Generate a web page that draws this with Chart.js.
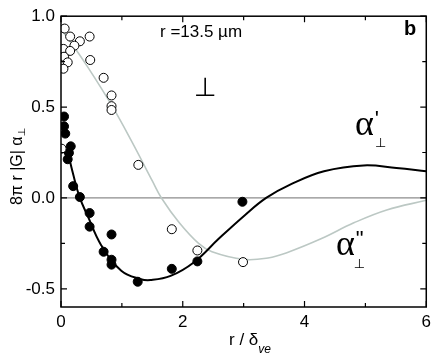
<!DOCTYPE html>
<html>
<head>
<meta charset="utf-8">
<script src="https://cdn.jsdelivr.net/npm/chart.js@4/dist/chart.umd.min.js"></script>
<style>
  html, body { margin: 0; padding: 0; background: #fff; }
  canvas { display: block; }
</style>
</head>
<body>
<canvas id="chart" width="436" height="356"></canvas>
<script>
// measured points (open = alpha'', filled = alpha')
const openX = [0.06, 0.15, 0.47, 0.31, 0.22, 0.04, 0.15, 0.48, 0.05, 0.11, 0.04, 0.70, 0.83, 0.83, 0.83, 1.27, 0.01, 1.82, 2.24, 2.99];
const openY = [0.932, 0.888, 0.888, 0.862, 0.838, 0.82, 0.809, 0.759, 0.777, 0.746, 0.711, 0.661, 0.564, 0.505, 0.484, 0.182, 0.271, -0.172, -0.289, -0.353];
const filledX = [0.05, 0.05, 0.07, 0.16, 0.13, 0.11, 0.20, 0.31, 0.47, 0.47, 0.83, 0.70, 0.83, 0.83, 1.26, 1.82, 2.24, 2.98];
const filledY = [0.448, 0.394, 0.354, 0.284, 0.248, 0.213, 0.065, 0.005, -0.083, -0.158, -0.201, -0.296, -0.340, -0.367, -0.461, -0.390, -0.349, -0.021];

// model curves
const fitRealX = [0.1, 0.2, 0.31, 0.44, 0.66, 0.99, 1.31, 1.47, 1.8, 2.18, 2.59, 3.02, 3.37, 3.78, 4.32, 4.97, 5.51, 6.0];
const fitRealY = [0.27, 0.13, 0.0, -0.10, -0.26, -0.40, -0.447, -0.452, -0.429, -0.355, -0.225, -0.095, 0.0, 0.076, 0.147, 0.179, 0.165, 0.147];
const fitImagX = [0.04, 0.09, 0.44, 0.85, 1.17, 1.5, 1.65, 1.94, 2.26, 2.48, 3.0, 3.4, 3.72, 4.27, 4.81, 5.35, 6.0];
const fitImagY = [0.91, 0.89, 0.72, 0.50, 0.306, 0.094, 0.0, -0.135, -0.25, -0.296, -0.338, -0.33, -0.30, -0.225, -0.137, -0.066, -0.013];

const zeroLineX = [0, 6];
const zeroLineY = [0, 0];

const xTicks = [0, 1, 2, 3, 4, 5, 6];
const xTickLabels = ["0", "", "2", "", "4", "", "6"];
const yTicks = [-0.5, -0.25, 0, 0.25, 0.5, 0.75, 1.0];
const yTickLabels = ["-0.5", "", "0.0", "", "0.5", "", "1.0"];

const pts = (xs, ys) => xs.map((x, i) => ({ x: x, y: ys[i] }));

const FONT = "'Liberation Sans', Arial, sans-serif";
const SERIF = "'Liberation Serif', 'Times New Roman', serif";
const SYM = "'DejaVu Sans', sans-serif";

// draw a run of text pieces, each with its own font and shift
function drawRun(ctx, x, y, parts) {
  let cx = x;
  for (const p of parts) {
    ctx.font = p.font;
    ctx.fillText(p.t, cx + (p.dx || 0), y + (p.dy || 0));
    cx += ctx.measureText(p.t).width + (p.dx || 0);
  }
}

const framePlugin = {
  id: "frame",
  afterDraw(chart) {
    const ctx = chart.ctx;
    const a = chart.chartArea;
    const xs = chart.scales.x, ys = chart.scales.y;
    ctx.save();
    ctx.strokeStyle = "#000";
    ctx.lineWidth = 1.5;
    ctx.strokeRect(a.left, a.top, a.right - a.left, a.bottom - a.top);
    ctx.lineWidth = 1.2;
    ctx.beginPath();
    xTicks.forEach((v, i) => {
      const px = xs.getPixelForValue(v);
      const len = xTickLabels[i] ? 6 : 4;
      ctx.moveTo(px, a.bottom); ctx.lineTo(px, a.bottom - len);
      ctx.moveTo(px, a.top); ctx.lineTo(px, a.top + len);
    });
    yTicks.forEach((v, i) => {
      const py = ys.getPixelForValue(v);
      const len = yTickLabels[i] ? 6 : 4;
      ctx.moveTo(a.left, py); ctx.lineTo(a.left + len, py);
      ctx.moveTo(a.right, py); ctx.lineTo(a.right - len, py);
    });
    ctx.stroke();

    ctx.fillStyle = "#000";
    ctx.textBaseline = "alphabetic";
    ctx.textAlign = "left";

    // x axis title
    drawRun(ctx, 229, 345, [
      { t: "r / \u03b4", font: "17px " + FONT },
      { t: "ve", font: "italic 12px " + FONT, dy: 8 }
    ]);

    // y axis title (rotated)
    ctx.save();
    ctx.translate(22, 205);
    ctx.rotate(-Math.PI / 2);
    drawRun(ctx, 0, 0, [
      { t: "8\u03c0 r |G| \u03b1", font: "16px " + FONT },
      { t: "\u22a5", font: "10px " + SYM, dy: 3 }
    ]);
    ctx.restore();

    // annotations
    ctx.font = "17px " + FONT;
    ctx.fillText("r =13.5 \u00b5m", 160, 37);
    ctx.font = "bold 20px " + FONT;
    ctx.fillText("b", 404, 35);
    ctx.font = "26px " + SYM;
    ctx.fillText("\u22a5", 194, 96);

    drawRun(ctx, 355, 135, [
      { t: "\u03b1", font: "36px " + SERIF },
      { t: "'", font: "22px " + FONT, dx: 1, dy: -9 },
      { t: "\u22a5", font: "13px " + SYM, dx: -4, dy: 12 }
    ]);
    drawRun(ctx, 336, 255, [
      { t: "\u03b1", font: "36px " + SERIF },
      { t: "\"", font: "22px " + FONT, dx: 1, dy: -9 },
      { t: "\u22a5", font: "13px " + SYM, dx: -10, dy: 13 }
    ]);
    ctx.restore();
  }
};

new Chart(document.getElementById("chart"), {
  type: "scatter",
  data: {
    datasets: [
      {
        label: "alpha'' data",
        data: pts(openX, openY),
        pointStyle: "circle",
        pointRadius: 4.5,
        backgroundColor: "#fff",
        borderColor: "#000",
        borderWidth: 1,
        order: 1
      },
      {
        label: "alpha' data",
        data: pts(filledX, filledY),
        pointStyle: "circle",
        pointRadius: 4.5,
        backgroundColor: "#000",
        borderColor: "#000",
        borderWidth: 1,
        order: 2
      },
      {
        label: "alpha' fit",
        data: pts(fitRealX, fitRealY),
        showLine: true,
        pointRadius: 0,
        borderColor: "#000",
        borderWidth: 2,
        tension: 0.4,
        order: 3
      },
      {
        label: "alpha'' fit",
        data: pts(fitImagX, fitImagY),
        showLine: true,
        pointRadius: 0,
        borderColor: "#bcc8c4",
        borderWidth: 1.6,
        tension: 0.4,
        order: 4
      },
      {
        label: "zero",
        data: pts(zeroLineX, zeroLineY),
        showLine: true,
        pointRadius: 0,
        borderColor: "#8c8c8c",
        borderWidth: 1.3,
        order: 5
      }
    ]
  },
  options: {
    responsive: false,
    animation: false,
    events: [],
    layout: { autoPadding: false, padding: { top: 7, right: 6, left: 0, bottom: 0 } },
    plugins: { legend: { display: false }, tooltip: { enabled: false } },
    scales: {
      x: {
        type: "linear",
        min: 0,
        max: 6,
        afterBuildTicks: s => { s.ticks = xTicks.map(v => ({ value: v })); },
        afterFit: s => { s.height = 49; },
        grid: { display: false, drawTicks: false },
        border: { display: false },
        ticks: {
          padding: 5,
          color: "#000",
          font: { family: FONT, size: 17 },
          maxRotation: 0,
          autoSkip: false,
          callback: (v) => xTickLabels[xTicks.indexOf(v)] ?? ""
        }
      },
      y: {
        type: "linear",
        min: -0.6,
        max: 1.0,
        afterBuildTicks: s => { s.ticks = yTicks.map(v => ({ value: v })); },
        afterFit: s => { s.width = 61; },
        grid: { display: false, drawTicks: false },
        border: { display: false },
        ticks: {
          padding: 6,
          color: "#000",
          font: { family: FONT, size: 17 },
          autoSkip: false,
          callback: (v) => yTickLabels[yTicks.indexOf(v)] ?? ""
        }
      }
    }
  },
  plugins: [framePlugin]
});
</script>
</body>
</html>
